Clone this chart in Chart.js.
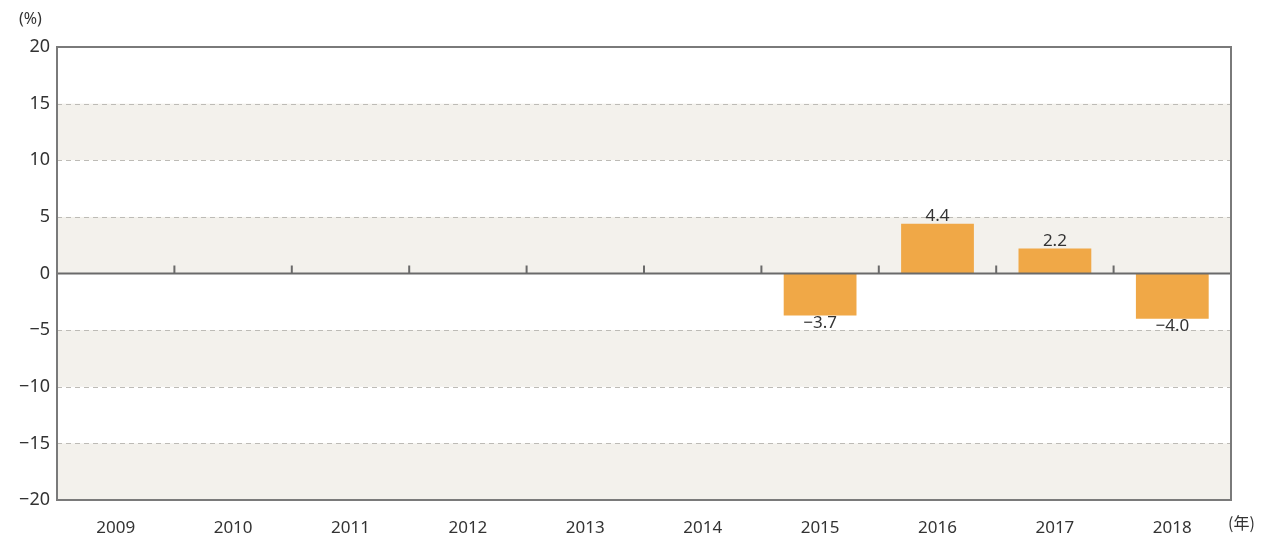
<!DOCTYPE html>
<html>
<head>
<meta charset="utf-8">
<script src="https://cdn.jsdelivr.net/npm/chart.js@4/dist/chart.umd.min.js"></script>
<style>
  html, body { margin: 0; padding: 0; background: #fff; }
  #wrap { position: relative; width: 1269px; height: 537px; }
  .unit { position: absolute; font-family: "Noto Sans", "Noto Sans CJK JP", sans-serif; font-size: 16px; color: #333; }
</style>
</head>
<body>
<div id="wrap">
  <canvas id="growth" width="1269" height="537"></canvas>
  <div class="unit" style="left:19px; top:7px;">(%)</div>
  <div class="unit" style="left:1228px; top:510px; font-family: 'Noto Sans CJK JP', sans-serif;">(年)</div>
</div>
<script>
const years = ['2009', '2010', '2011', '2012', '2013', '2014', '2015', '2016', '2017', '2018'];
const growth = [null, null, null, null, null, null, -3.7, 4.4, 2.2, -4.0];
// shaded horizontal bands [from, to]
const bands = [[10, 15], [0, 5], [-10, -5], [-20, -15]];
const dashedAt = [15, 10, 5, -5, -10, -15];

const minus = (v) => (v < 0 ? '\u2212' + Math.abs(v) : String(v));

const backdrop = {
  id: 'backdrop',
  beforeDraw(chart) {
    const { ctx, chartArea: a, scales: { y } } = chart;
    ctx.save();
    ctx.fillStyle = '#f3f1ec';
    bands.forEach(([lo, hi]) => {
      const top = y.getPixelForValue(hi);
      const bot = y.getPixelForValue(lo);
      ctx.fillRect(a.left, top, a.right - a.left, bot - top);
    });
    // dashed grid lines
    ctx.strokeStyle = '#bdbbb6';
    ctx.lineWidth = 1;
    ctx.setLineDash([5, 4]);
    dashedAt.forEach((v) => {
      const py = Math.round(y.getPixelForValue(v)) + 0.5;
      ctx.beginPath();
      ctx.moveTo(a.left, py);
      ctx.lineTo(a.right, py);
      ctx.stroke();
    });
    ctx.restore();
  },
  afterDatasetsDraw(chart) {
    const { ctx, chartArea: a, scales: { x, y } } = chart;
    const zero = y.getPixelForValue(0);
    ctx.save();
    // zero line
    ctx.strokeStyle = '#6a6a6a';
    ctx.lineWidth = 2;
    ctx.beginPath();
    ctx.moveTo(a.left, zero);
    ctx.lineTo(a.right, zero);
    ctx.stroke();
    // category boundary ticks above the zero line
    for (let i = 1; i < years.length; i++) {
      const px = (x.getPixelForValue(i - 1) + x.getPixelForValue(i)) / 2;
      ctx.beginPath();
      ctx.moveTo(px, zero);
      ctx.lineTo(px, zero - 8);
      ctx.stroke();
    }
    // frame
    ctx.strokeStyle = '#7a7a7a';
    ctx.strokeRect(a.left, a.top, a.right - a.left, a.bottom - a.top);
    // value labels
    ctx.fillStyle = '#333';
    ctx.font = '17px "Noto Sans", sans-serif';
    ctx.textAlign = 'center';
    chart.getDatasetMeta(0).data.forEach((bar, i) => {
      const v = growth[i];
      if (v === null) return;
      if (v >= 0) {
        ctx.textBaseline = 'bottom';
        ctx.fillText(v.toFixed(1), bar.x, bar.y + 1);
      } else {
        ctx.textBaseline = 'top';
        ctx.fillText('\u2212' + Math.abs(v).toFixed(1), bar.x, bar.y - 1);
      }
    });
    ctx.restore();
  }
};

new Chart(document.getElementById('growth'), {
  type: 'bar',
  data: {
    labels: years,
    datasets: [
      {
        data: growth,
        backgroundColor: '#f0a847',
        categoryPercentage: 1,
        barPercentage: 0.62,
      },
    ],
  },
  options: {
    responsive: false,
    animation: false,
    layout: { padding: { top: 47, right: 38, bottom: 0, left: 0 } },
    plugins: { legend: { display: false }, tooltip: { enabled: false } },
    scales: {
      x: {
        grid: { display: false },
        border: { display: false },
        ticks: { color: '#333', font: { family: 'Noto Sans', size: 17 }, padding: 10 },
        afterFit: (scale) => { scale.height = 37; },
      },
      y: {
        min: -20,
        max: 20,
        grid: { display: false, drawTicks: false },
        border: { display: false },
        ticks: {
          stepSize: 5,
          padding: 7,
          color: '#333',
          font: { family: 'Noto Sans', size: 18 },
          callback: (v) => minus(v),
        },
        afterFit: (scale) => { scale.width = 57; },
      },
    },
  },
  plugins: [backdrop],
});
</script>
</body>
</html>
